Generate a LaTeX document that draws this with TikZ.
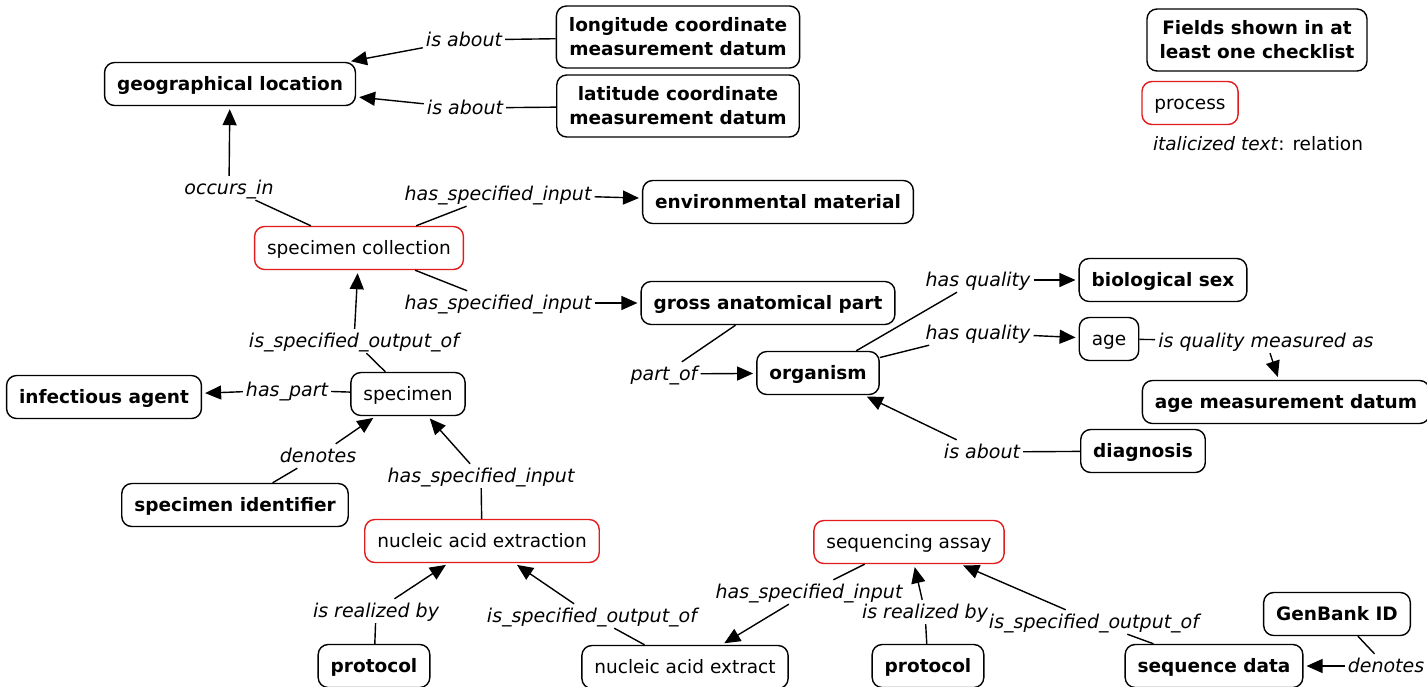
\documentclass[tikz,border=0pt]{standalone}
\usepackage{fontspec}
\setmainfont{DejaVu Sans}
\usetikzlibrary{positioning,arrows.meta}
\definecolor{procred}{RGB}{226,28,28}

\begin{document}
\begin{tikzpicture}[x=1pt,y=-1pt,
    every node/.style={font=\fontsize{18.5}{24}\selectfont},
    item/.style={rectangle,rounded corners=10pt,draw,line width=1.4pt,inner xsep=12.5pt,minimum height=43pt,align=center,text height=15pt,text depth=3pt},
    field/.style={item,font=\fontsize{18.5}{24}\selectfont\bfseries},
    twoline/.style={field,text height=,text depth=,minimum height=62pt},
    proc/.style={item,draw=procred},
    rel/.style={font=\fontsize{19}{24}\selectfont\itshape,inner sep=3pt,text height=15pt,text depth=3pt},
    link/.style={line width=1.4pt},
    arr/.style={link,-{Triangle[length=16pt,width=14pt]},shorten >=3pt}]
\useasboundingbox (0,0) rectangle (1427,686);

% concepts
\node[field] (geo) at (230,84) {geographical location};
\node[twoline] (lon) at (678,37) {longitude coordinate\\measurement datum};
\node[twoline] (lat) at (678,106) {latitude coordinate\\measurement datum};
\node[field] (envmat) at (778,202) {environmental material};
\node[proc] (speccoll) at (359,248) {specimen collection};
\node[field] (gross) at (768,303) {gross anatomical part};
\node[field] (biosex) at (1163,280) {biological sex};
\node[item] (age) at (1109,339) {age};
\node[field] (agedatum) at (1286,402) {age measurement datum};
\node[field] (organism) at (818,373) {organism};
\node[field] (diagnosis) at (1143,451) {diagnosis};
\node[field] (infect) at (104,397) {infectious agent};
\node[item] (specimen) at (408,394) {specimen};
\node[field] (specid) at (235,505) {specimen identifier};
\node[proc] (extraction) at (482,541) {nucleic acid extraction};
\node[field] (protA) at (374,666) {protocol};
\node[item] (extract) at (685,667) {nucleic acid extract};
\node[proc] (assay) at (909,542) {sequencing assay};
\node[field] (protB) at (928,666) {protocol};
\node[field] (seqdata) at (1214,666) {sequence data};
\node[field] (genbank) at (1337,614) {GenBank ID};

% legend
\node[twoline] (legfield) at (1257,40) {Fields shown in at\\least one checklist};
\node[proc] (legproc) at (1190,103) {process};
\node (legrel) at (1258,144) {\textit{italicized text}: relation};

% relations
\node[rel] (aboutlon) at (464,40) {is about};
\node[rel] (aboutlat) at (465,108) {is about};
\node[rel] (occurs) at (229,188) {occurs\_in};
\node[rel] (inenv) at (498,194) {has\_specified\_input};
\node[rel] (ingross) at (498,303) {has\_specified\_input};
\node[rel] (outcoll) at (354,341) {is\_specified\_output\_of};
\node[rel] (haspart) at (287,390) {has\_part};
\node[rel] (denotesA) at (318,456) {denotes};
\node[rel] (inspec) at (481,476) {has\_specified\_input};
\node[rel] (realA) at (376,611) {is realized by};
\node[rel] (outextr) at (592,616) {is\_specified\_output\_of};
\node[rel] (inextr) at (809,592) {has\_specified\_input};
\node[rel] (realB) at (925,612) {is realized by};
\node[rel] (outassay) at (1094,622) {is\_specified\_output\_of};
\node[rel] (denotesB) at (1386,666) {denotes};
\node[rel] (qualsex) at (978,280) {has quality};
\node[rel] (qualage) at (978,333) {has quality};
\node[rel] (measured) at (1266,341) {is quality measured as};
\node[rel] (aboutorg) at (982,452) {is about};
\node[rel] (partof) at (664,374) {part\_of};

% connectors
\draw[link] (lon) -- (aboutlon);
\draw[arr] (aboutlon) -- (geo);
\draw[link] (lat) -- (aboutlat);
\draw[arr] (aboutlat) -- (geo);
\draw[link] (speccoll) -- (occurs);
\draw[arr] (occurs) -- (geo);
\draw[link] (speccoll) -- (inenv);
\draw[arr] (inenv) -- (envmat);
\draw[link] (speccoll) -- (ingross);
\draw[arr] (ingross) -- (gross);
\draw[link] (specimen) -- (outcoll);
\draw[arr] (outcoll) -- (speccoll);
\draw[link] (specimen) -- (haspart);
\draw[arr] (haspart) -- (infect);
\draw[link] (specid) -- (denotesA);
\draw[arr] (denotesA) -- (specimen);
\draw[link] (extraction) -- (inspec);
\draw[arr] (inspec) -- (specimen);
\draw[link] (protA) -- (realA);
\draw[arr] (realA) -- (extraction);
\draw[link] (extract) -- (outextr);
\draw[arr] (outextr) -- (extraction);
\draw[link] (assay) -- (inextr);
\draw[arr] (inextr) -- (extract);
\draw[link] (protB) -- (realB);
\draw[arr] (realB) -- (assay);
\draw[link] (seqdata) -- (outassay);
\draw[arr] (outassay) -- (assay);
\draw[link] (genbank) -- (denotesB);
\draw[arr] (denotesB) -- (seqdata);
\draw[link] (organism) -- (qualsex);
\draw[arr] (qualsex) -- (biosex);
\draw[link] (organism) -- (qualage);
\draw[arr] (qualage) -- (age);
\draw[link] (age) -- (measured);
\draw[arr] (measured) -- (agedatum);
\draw[link] (diagnosis) -- (aboutorg);
\draw[arr] (aboutorg) -- (organism);
\draw[link] (gross) -- (partof);
\draw[arr] (partof) -- (organism);
\end{tikzpicture}
\end{document}
